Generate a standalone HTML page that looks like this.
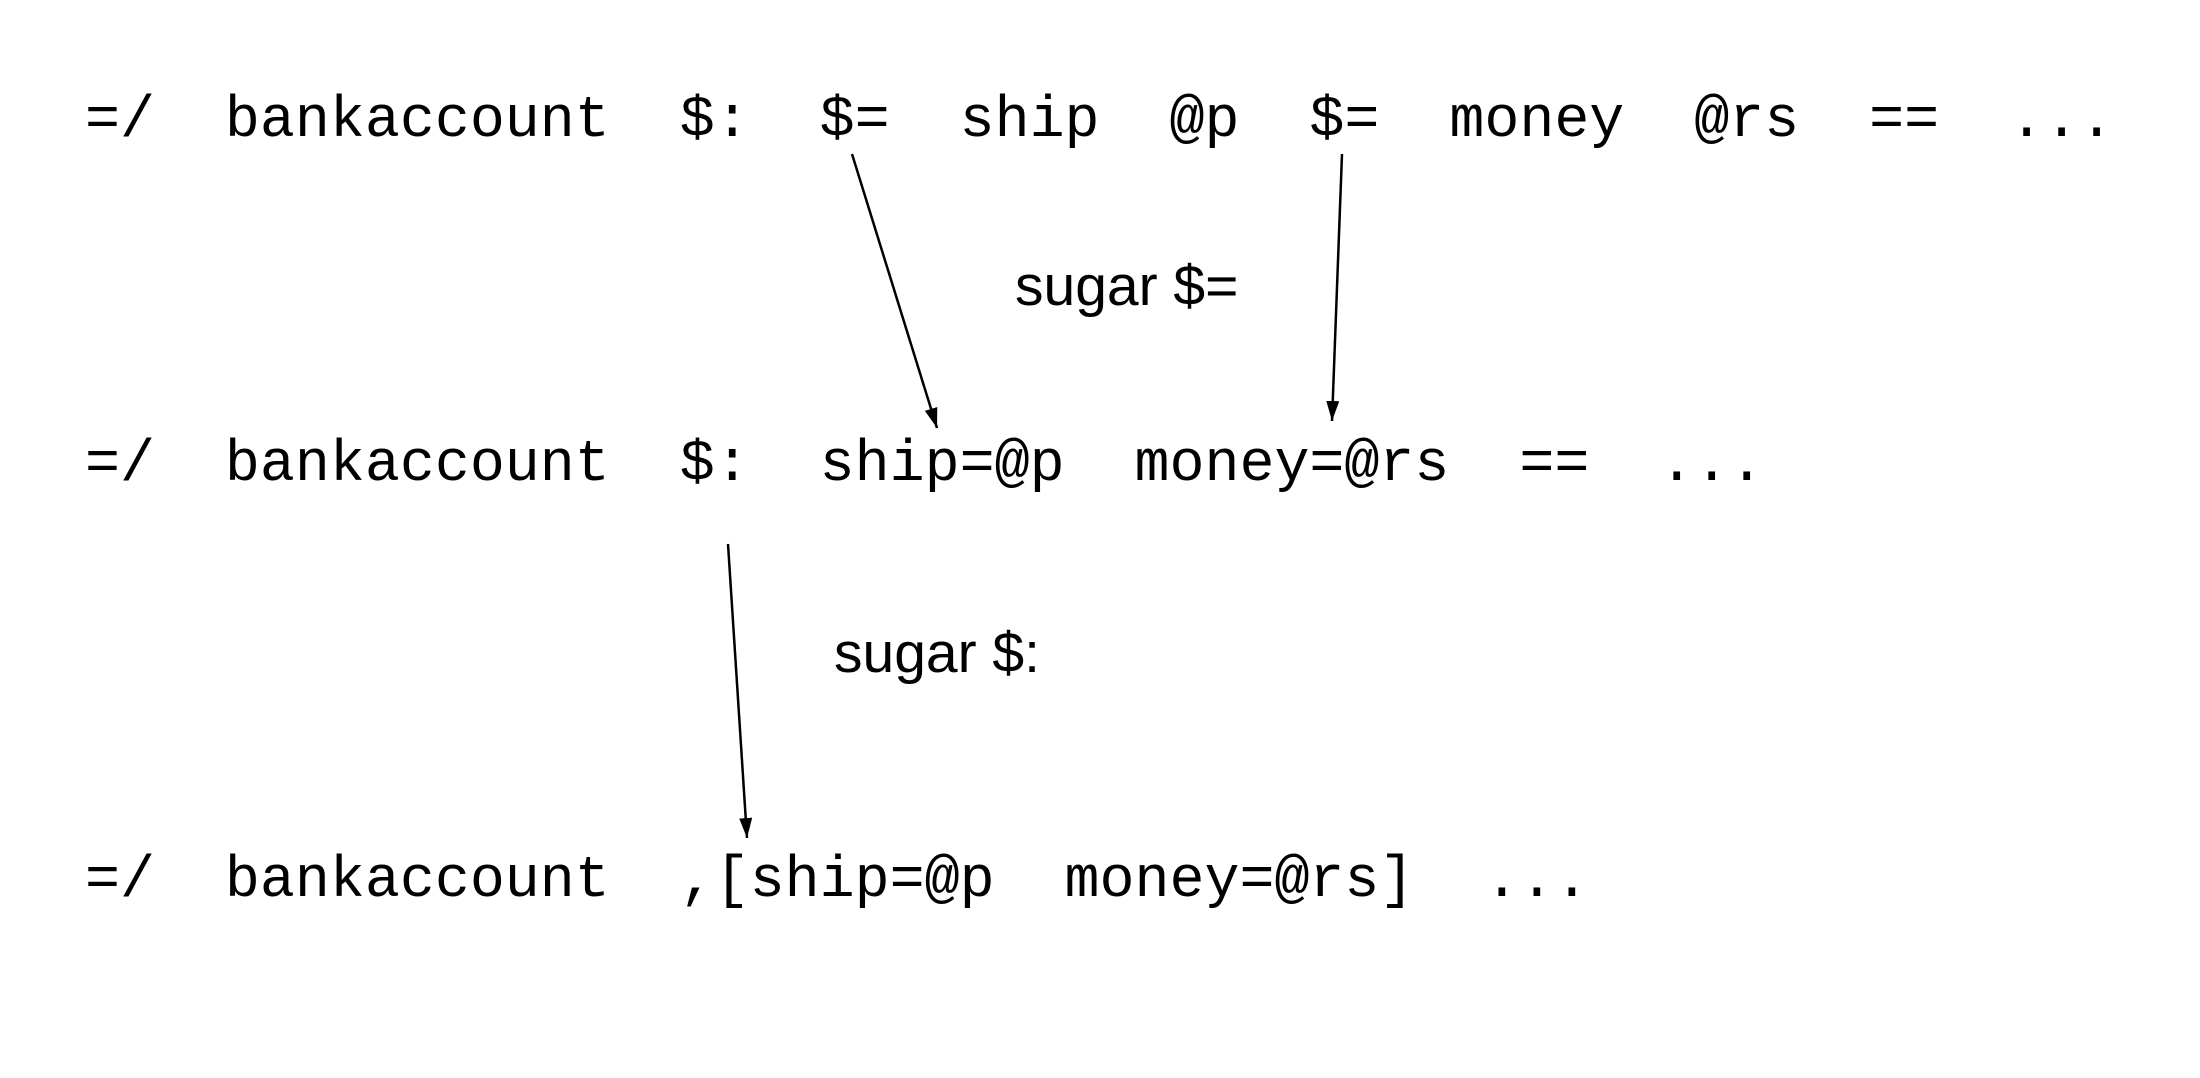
<!DOCTYPE html>
<html><head><meta charset="utf-8"><style>
html,body{margin:0;padding:0;background:#fff;}
body{width:2200px;height:1078px;position:relative;overflow:hidden;}
.m{position:absolute;font-family:"Liberation Mono","Courier New",monospace;font-size:58.3px;white-space:pre;color:#000;line-height:1;}
.s{position:absolute;font-family:"Liberation Sans",Arial,sans-serif;font-size:57px;white-space:pre;color:#000;line-height:1;}
svg{position:absolute;left:0;top:0;}
</style></head><body>
<div class="m" style="left:85px;top:92px;">=/  bankaccount  $:  $=  ship  @p  $=  money  @rs  ==  ...</div>
<div class="m" style="left:85px;top:436px;">=/  bankaccount  $:  ship=@p  money=@rs  ==  ...</div>
<div class="m" style="left:85px;top:852px;">=/  bankaccount  ,[ship=@p  money=@rs]  ...</div>
<div class="s" style="left:1015px;top:258px;">sugar $=</div>
<div class="s" style="left:834px;top:625px;">sugar $:</div>
<svg width="2200" height="1078">
<defs><marker id="a" markerWidth="20" markerHeight="13" refX="20" refY="6.5" orient="auto" markerUnits="userSpaceOnUse" viewBox="0 0 20 13"><path d="M0,0 L20,6.5 L0,13 z" fill="#000"/></marker></defs>
<g stroke="#000" stroke-width="2.5" fill="none">
<line x1="852" y1="154" x2="937" y2="428" marker-end="url(#a)"/>
<line x1="1342" y1="154" x2="1332" y2="421" marker-end="url(#a)"/>
<line x1="728" y1="544" x2="747" y2="838" marker-end="url(#a)"/>
</g>
</svg>
</body></html>
